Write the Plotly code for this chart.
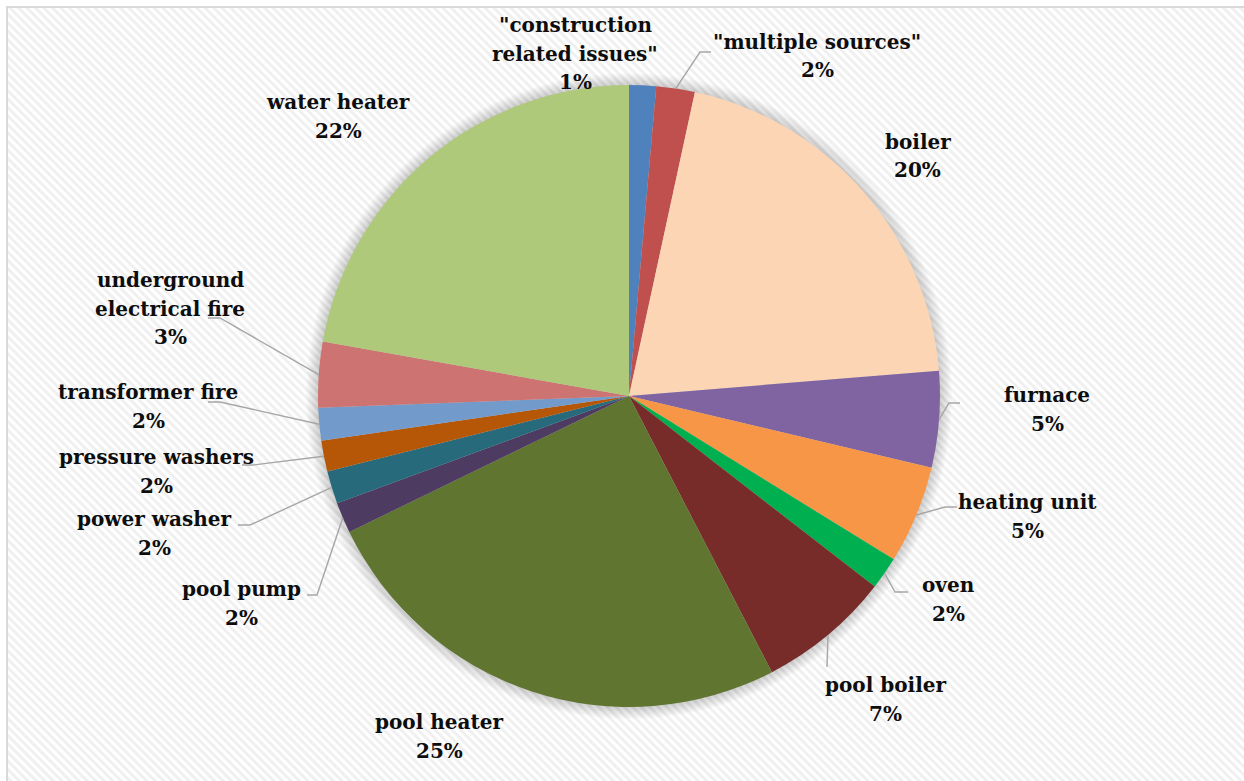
import base64
import math
import plotly.graph_objects as go

# ---- data -------------------------------------------------------------
categories = [
    '"construction related issues"', '"multiple sources"', 'boiler', 'furnace',
    'heating unit', 'oven', 'pool boiler', 'pool heater', 'pool pump',
    'power washer', 'pressure washers', 'transformer fire',
    'underground electrical fire', 'water heater',
]
shares = [1.4, 2.0, 20.3, 5.0, 5.1, 1.7, 6.9, 25.4, 1.6, 1.7, 1.6, 1.7, 3.4, 22.2]

colors = [
    '#4F81BD', '#C0504D', '#FCD5B5', '#8064A2', '#F79646', '#00B050', '#772C2A',
    '#5F7530', '#4D3B62', '#276A7C', '#B65708', '#729ACA', '#CD7371', '#AFC97A',
]

# how the longer names are broken over lines
wrapped = {
    '"construction related issues"': ['"construction', 'related issues"'],
    'underground electrical fire': ['underground', 'electrical fire'],
}

# ---- layout (pixels) ----------------------------------------------------
W, H = 1244, 781
CX, CY, R = 629, 396, 311          # pie centre and radius
LINE_STEP = 28.5                   # distance between label lines

# label centre of first line, optional leader (elbow, end)
label_pos = {
    '"construction related issues"': ((575, 25), None),
    '"multiple sources"': ((817, 42), ((700, 52), (711, 52))),
    'boiler': ((918, 142), None),
    'furnace': ((1047, 395), ((949, 403), (960, 403))),
    'heating unit': ((1027, 502), ((945, 507), (957, 507))),
    'oven': ((948, 585), ((895, 592), (908, 592))),
    'pool boiler': ((885, 685), ((827, 667), (827, 667))),
    'pool heater': ((439, 722), None),
    'pool pump': ((241, 589), ((317, 595), (307, 595))),
    'power washer': ((154, 519), ((250, 525), (238, 525))),
    'pressure washers': ((157, 457), ((253, 465), (242, 465))),
    'transformer fire': ((148, 392), ((220, 402), (208, 402))),
    'underground electrical fire': ((170, 280), ((220, 318), (208, 318))),
    'water heater': ((338, 102), None),
}


def fx(x):
    return x / W


def fy(y):
    return 1 - y / H


fig = go.Figure()

fig.add_trace(go.Pie(
    labels=categories,
    values=shares,
    sort=False,
    direction='clockwise',
    rotation=0,
    marker=dict(colors=colors, line=dict(width=0)),
    textinfo='none',
    hoverinfo='label+percent',
    showlegend=False,
    domain=dict(x=[fx(CX - R), fx(CX + R)], y=[fy(CY + R), fy(CY - R)]),
))

# ---- labels and leader lines -------------------------------------------
total = sum(shares)
annotations = []
shapes = []
cum = 0.0
for name, v in zip(categories, shares):
    mid = (cum + v / 2) / total
    cum += v
    pct = round(v / total * 100)
    lines = wrapped.get(name, [name]) + [f'{pct}%']
    (lx, ly), leader = label_pos[name]
    for i, t in enumerate(lines):
        annotations.append(dict(
            text=t, x=fx(lx), y=fy(ly + i * LINE_STEP), xref='paper', yref='paper',
            xanchor='center', yanchor='middle', showarrow=False,
            font=dict(family='DejaVu Serif', size=20, color='#0D0D0D', weight='bold'),
        ))
    if leader:
        ang = 2 * math.pi * mid
        sx = CX + R * math.sin(ang)
        sy = CY - R * math.cos(ang)
        (ex, ey), (tx, ty) = leader
        path = f'M {fx(sx)},{fy(sy)} L {fx(ex)},{fy(ey)} L {fx(tx)},{fy(ty)}'
        shapes.append(dict(type='path', path=path, xref='paper', yref='paper',
                           line=dict(color='#A6A6A6', width=1.4), layer='above'))

# soft shadow around the pie
for k in range(1, 12):
    rr = R + k * 1.1
    shapes.append(dict(
        type='circle', xref='paper', yref='paper', layer='below',
        x0=fx(CX - rr), x1=fx(CX + rr), y0=fy(CY + rr), y1=fy(CY - rr),
        fillcolor='rgba(0,0,0,0.017)', line=dict(width=0),
    ))

# chart frame
shapes.append(dict(type='rect', xref='paper', yref='paper', layer='below',
                   x0=fx(7), x1=fx(W + 20), y0=fy(H + 20), y1=fy(7),
                   line=dict(color='#D9D9D9', width=2)))

# diagonal hatch background
svg = (
    f'<svg xmlns="http://www.w3.org/2000/svg" width="{W}" height="{H}">'
    '<defs><pattern id="p" width="6" height="6" patternUnits="userSpaceOnUse" '
    'patternTransform="rotate(-45)">'
    '<rect width="6" height="6" fill="#ffffff"/>'
    '<rect width="3" height="6" fill="#f0f0f0"/></pattern></defs>'
    f'<rect x="7" y="7" width="{W}" height="{H}" fill="url(#p)"/></svg>'
)
bg = 'data:image/svg+xml;base64,' + base64.b64encode(svg.encode()).decode()

fig.update_layout(
    width=W, height=H, autosize=False,
    margin=dict(l=0, r=0, t=0, b=0),
    paper_bgcolor='#ffffff',
    annotations=annotations,
    shapes=shapes,
    images=[dict(source=bg, xref='paper', yref='paper', x=0, y=1, sizex=1, sizey=1,
                 xanchor='left', yanchor='top', sizing='stretch', layer='below')],
)

fig.write_html('out.html')
